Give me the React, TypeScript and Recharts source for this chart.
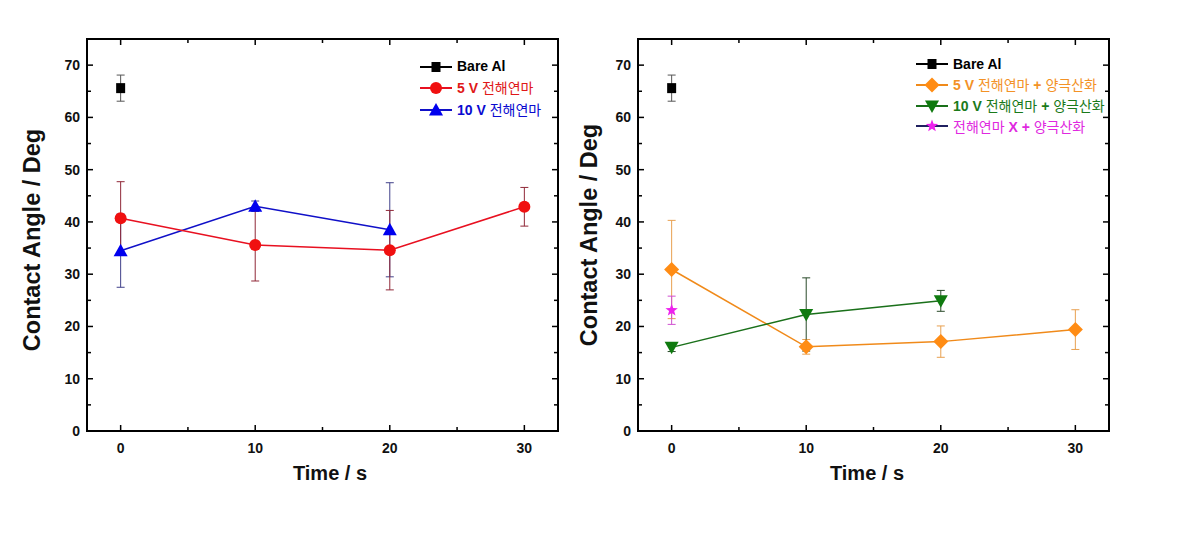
import React from 'react';
import { ComposedChart, Line, XAxis, YAxis, ErrorBar, ReferenceArea } from 'recharts';

// time points (s)
const timeS = [0, 10, 20, 30];

// left panel: electropolishing only
const bareAlAngle = [65.6];
const bareAlErr = [2.5];
const ep5Angle = [40.7, 35.6, 34.6, 42.9];
const ep5Err = [7.0, 6.9, 7.6, 3.7];
const ep10Angle = [34.5, 43.0, 38.5];
const ep10Err = [7.0, 1.0, 9.0];

// right panel: electropolishing + anodizing
const an5Angle = [30.9, 16.1, 17.1, 19.4];
const an5Err = [9.4, 1.4, 3.0, 3.8];
const an10Angle = [16.0, 22.3, 24.9];
const an10Err = [0.8, 7.0, 2.0];
const anOnlyAngle = [23.1];
const anOnlyErr = [2.7];

const xTicks = [0, 5, 10, 15, 20, 25, 30];
const yTicks = [0, 5, 10, 15, 20, 25, 30, 35, 40, 45, 50, 55, 60, 65, 70];

const rows = (angles: number[], errs: number[]) =>
  angles.map((v, i) => ({ t: timeS[i], v, e: errs[i] }));

const W = 580;
const H = 535;
const PL = 87;
const PR = 558;
const PT = 39;
const PB = 431;
const FONT = "'Liberation Sans', Arial, 'Noto Sans CJK KR', sans-serif";
const KFONT = "'Noto Sans CJK KR', sans-serif";

type Shape = 'square' | 'circle' | 'triangle' | 'diamond' | 'tridown' | 'star';

const markerPath = (shape: Shape, cx: number, cy: number) => {
  switch (shape) {
    case 'square':
      return `M${cx - 4.5},${cy - 5}h9v10h-9z`;
    case 'triangle':
      return `M${cx},${cy - 7}L${cx + 7},${cy + 5.5}L${cx - 7},${cy + 5.5}z`;
    case 'tridown':
      return `M${cx},${cy + 7}L${cx + 7},${cy - 5.5}L${cx - 7},${cy - 5.5}z`;
    case 'diamond':
      return `M${cx},${cy - 7.5}L${cx + 7.5},${cy}L${cx},${cy + 7.5}L${cx - 7.5},${cy}z`;
    case 'star': {
      let d = '';
      for (let i = 0; i < 10; i++) {
        const r = i % 2 === 0 ? 6.5 : 2.7;
        const a = -Math.PI / 2 + (i * Math.PI) / 5;
        d += `${i === 0 ? 'M' : 'L'}${cx + r * Math.cos(a)},${cy + r * Math.sin(a)}`;
      }
      return d + 'z';
    }
    default:
      return '';
  }
};

const Marker = ({ shape, cx, cy, fill }: { shape: Shape; cx: number; cy: number; fill: string }) =>
  shape === 'circle' ? (
    <circle cx={cx} cy={cy} r={6} fill={fill} />
  ) : (
    <path d={markerPath(shape, cx, cy)} fill={fill} />
  );

const dotFor = (shape: Shape, fill: string) => (p: any) =>
  <Marker key={`d-${p.index}`} shape={shape} cx={p.cx} cy={p.cy} fill={fill} />;

const YTick = ({ y, payload }: any) => {
  const v = payload.value;
  const major = v % 10 === 0;
  const len = major ? 6 : 4;
  return (
    <g>
      <line x1={PL} x2={PL + len} y1={y} y2={y} stroke="#000" strokeWidth={1.5} />
      <line x1={PR} x2={PR - len} y1={y} y2={y} stroke="#000" strokeWidth={1.5} />
      {major && (
        <text x={80} y={y + 5} textAnchor="end" fontFamily={FONT} fontWeight="bold" fontSize={14} fill="#111">
          {v}
        </text>
      )}
    </g>
  );
};

const XTick = ({ x, payload }: any) => {
  const v = payload.value;
  const major = v % 10 === 0;
  const len = major ? 6 : 4;
  return (
    <g>
      <line x1={x} x2={x} y1={PB} y2={PB - len} stroke="#000" strokeWidth={1.5} />
      <line x1={x} x2={x} y1={PT} y2={PT + len} stroke="#000" strokeWidth={1.5} />
      {major && (
        <text x={x} y={453} textAnchor="middle" fontFamily={FONT} fontWeight="bold" fontSize={14} fill="#111">
          {v}
        </text>
      )}
    </g>
  );
};

const YTitle = ({ tx, ty }: any) => (
  <text
    transform={`translate(${tx},${ty}) rotate(-90)`}
    textAnchor="middle"
    fontFamily={FONT}
    fontWeight="bold"
    fontSize={23.5}
    fill="#111"
  >
    Contact Angle / Deg
  </text>
);

const XTitle = ({ tx }: any) => (
  <text x={tx} y={480} textAnchor="middle" fontFamily={FONT} fontWeight="bold" fontSize={20} fill="#111">
    Time / s
  </text>
);

type Series = {
  name: string;
  data: { t: number; v: number; e: number }[];
  shape: Shape;
  color: string;
  lineColor: string;
  barColor: string;
  keyColor: string;
  label: React.ReactNode;
};

const B = ({ children }: { children: React.ReactNode }) => (
  <span style={{ fontWeight: 'bold', fontFamily: FONT }}>{children}</span>
);
const K = ({ children }: { children: React.ReactNode }) => (
  <span style={{ fontWeight: 'normal', fontFamily: KFONT }}>{children}</span>
);

const leftSeries: Series[] = [
  {
    name: 'bare', data: rows(bareAlAngle, bareAlErr), shape: 'square', color: '#000',
    lineColor: 'none', barColor: '#555', keyColor: '#000',
    label: <span style={{ color: '#000' }}><B>Bare Al</B></span>,
  },
  {
    name: 'ep10', data: rows(ep10Angle, ep10Err), shape: 'triangle', color: '#0000ee',
    lineColor: '#1010c8', barColor: '#40408a', keyColor: '#1010c8',
    label: <span style={{ color: '#0a0ad0' }}><B>10 V</B> <K>전해연마</K></span>,
  },
  {
    name: 'ep5', data: rows(ep5Angle, ep5Err), shape: 'circle', color: '#f01010',
    lineColor: '#e81020', barColor: '#902838', keyColor: '#e81020',
    label: <span style={{ color: '#e01818' }}><B>5 V</B> <K>전해연마</K></span>,
  },
];

const rightSeries: Series[] = [
  {
    name: 'bare', data: rows(bareAlAngle, bareAlErr), shape: 'square', color: '#000',
    lineColor: 'none', barColor: '#555', keyColor: '#000',
    label: <span style={{ color: '#000' }}><B>Bare Al</B></span>,
  },
  {
    name: 'an5', data: rows(an5Angle, an5Err), shape: 'diamond', color: '#ff8c14',
    lineColor: '#f08a1a', barColor: '#e8a050', keyColor: '#f08a1a',
    label: <span style={{ color: '#f39226' }}><B>5 V</B> <K>전해연마</K> <B>+</B> <K>양극산화</K></span>,
  },
  {
    name: 'an10', data: rows(an10Angle, an10Err), shape: 'tridown', color: '#0f7a0f',
    lineColor: '#1a701a', barColor: '#2a4a2a', keyColor: '#1a701a',
    label: <span style={{ color: '#1a7a1a' }}><B>10 V</B> <K>전해연마</K> <B>+</B> <K>양극산화</K></span>,
  },
  {
    name: 'an0', data: rows(anOnlyAngle, anOnlyErr), shape: 'star', color: '#ee22ee',
    lineColor: 'none', barColor: '#d050d0', keyColor: '#202060',
    label: <span style={{ color: '#e028e0' }}><K>전해연마</K> <B>X</B> <B>+</B> <K>양극산화</K></span>,
  },
];

const LegendBox = ({ items, order, left, top, rowH }: any) => (
  <div style={{ position: 'absolute', left, top, fontSize: 14, lineHeight: `${rowH}px` }}>
    {order.map((name: string) => {
      const s = items.find((it: Series) => it.name === name) as Series;
      return (
        <div key={name} style={{ display: 'flex', alignItems: 'center', height: rowH, whiteSpace: 'nowrap' }}>
          <svg width={32} height={16} style={{ marginRight: 5 }}>
            <line x1={0} x2={32} y1={8} y2={8} stroke={s.keyColor} strokeWidth={2} />
            <Marker shape={s.shape} cx={16} cy={8} fill={s.color} />
          </svg>
          {s.label}
        </div>
      );
    })}
  </div>
);

const Panel = ({ series, left, titleX, titleY, xTitleX, legend }: any) => (
  <div style={{ position: 'absolute', left, top: 0, width: W, height: H }}>
    <ComposedChart width={W} height={H} margin={{ top: PT, right: W - PR, left: 0, bottom: 0 }}>
      <XAxis
        type="number"
        dataKey="t"
        domain={[-2.5, 32.5]}
        ticks={xTicks}
        allowDataOverflow
        height={H - PB}
        axisLine={false}
        tickLine={false}
        tickSize={0}
        tick={<XTick />}
        label={<XTitle tx={xTitleX} />}
        interval={0}
      />
      <YAxis
        type="number"
        domain={[0, 75]}
        ticks={yTicks}
        allowDataOverflow
        width={PL}
        axisLine={false}
        tickLine={false}
        tickSize={0}
        tickMargin={7}
        tick={<YTick />}
        label={<YTitle tx={titleX} ty={titleY} />}
        interval={0}
      />
      <ReferenceArea x1={-2.5} x2={32.5} y1={0} y2={75} fill="none" stroke="#000" strokeWidth={2} fillOpacity={0} />
      {series.map((s: Series) => (
        <Line
          key={s.name}
          data={s.data}
          dataKey="v"
          type="linear"
          stroke={s.lineColor}
          strokeWidth={1.5}
          dot={dotFor(s.shape, s.color)}
          activeDot={false}
          isAnimationActive={false}
        >
          <ErrorBar dataKey="e" width={4} stroke={s.barColor} strokeWidth={1} direction="y" />
        </Line>
      ))}
    </ComposedChart>
    {legend}
  </div>
);

export default function App() {
  return (
    <div style={{ position: 'absolute', left: 0, top: 0, width: 1182, height: 535, background: '#fff', fontFamily: FONT }}>
      <Panel
        series={leftSeries}
        left={0}
        titleX={40}
        titleY={240}
        xTitleX={330}
        legend={<LegendBox items={leftSeries} order={['bare', 'ep5', 'ep10']} left={420} top={56} rowH={21.5} />}
      />
      <Panel
        series={rightSeries}
        left={551}
        titleX={46}
        titleY={235}
        xTitleX={316}
        legend={<LegendBox items={rightSeries} order={['bare', 'an5', 'an10', 'an0']} left={365} top={54} rowH={20.7} />}
      />
    </div>
  );
}
